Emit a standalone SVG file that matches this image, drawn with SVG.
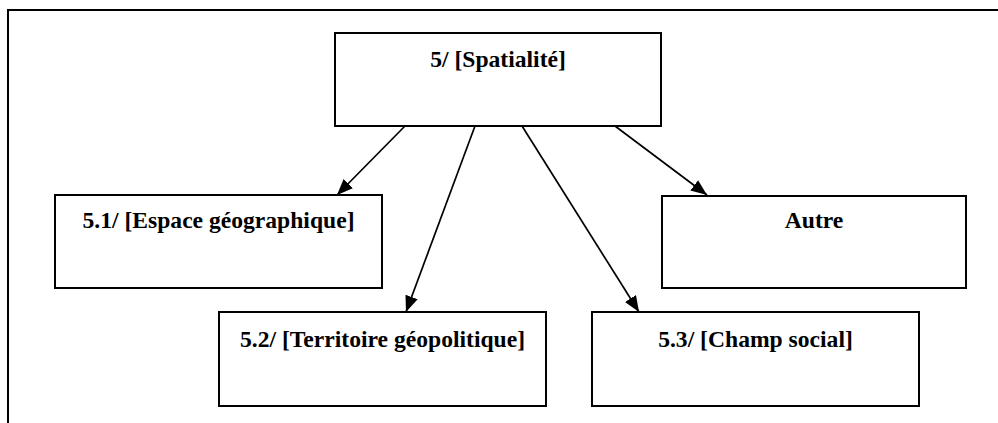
<svg xmlns="http://www.w3.org/2000/svg" width="998" height="423" viewBox="0 0 998 423">
  <style>
    .box { fill: #ffffff; stroke: #000000; stroke-width: 2; }
    .frame { fill: none; stroke: #000000; stroke-width: 2; }
    .label { font-family: "Liberation Serif", "DejaVu Serif", "Times New Roman", serif; font-weight: bold; font-size: 23.6px; fill: #000000; text-anchor: middle; }
    .edge { stroke: #000000; stroke-width: 1.7; fill: none; marker-end: url(#arrow); }
  </style>
  <defs>
    <marker id="arrow" viewBox="0 0 16 13" refX="16" refY="6.5" markerWidth="16" markerHeight="13" markerUnits="userSpaceOnUse" orient="auto">
      <path d="M0,0 L16,6.5 L0,13 Z" fill="#000000"/>
    </marker>
  </defs>
  <rect width="998" height="423" fill="#ffffff"/>

  <!-- page frame: top and left rules -->
  <path class="frame" d="M8,423 L8,10 L998,10"/>

  <g id="connectors">
    <line class="edge" x1="405" y1="126" x2="337" y2="195"/>
    <line class="edge" x1="475" y1="126" x2="406" y2="312"/>
    <line class="edge" x1="522" y1="126" x2="639" y2="312"/>
    <line class="edge" x1="615" y1="126" x2="707" y2="195"/>
  </g>

  <g id="node-spatialite">
    <rect class="box" x="335" y="33" width="326" height="93"/>
    <text class="label" x="498" y="67">5/ [Spatialité]</text>
  </g>

  <g id="node-espace">
    <rect class="box" x="55" y="195" width="327" height="93"/>
    <text class="label" x="218.5" y="228">5.1/ [Espace géographique]</text>
  </g>

  <g id="node-territoire">
    <rect class="box" x="219" y="312" width="327" height="94"/>
    <text class="label" x="382.5" y="347">5.2/ [Territoire géopolitique]</text>
  </g>

  <g id="node-champ">
    <rect class="box" x="592" y="312" width="327" height="94"/>
    <text class="label" x="755.5" y="347">5.3/ [Champ social]</text>
  </g>

  <g id="node-autre">
    <rect class="box" x="662" y="196" width="304" height="92"/>
    <text class="label" x="814" y="228">Autre</text>
  </g>
</svg>
